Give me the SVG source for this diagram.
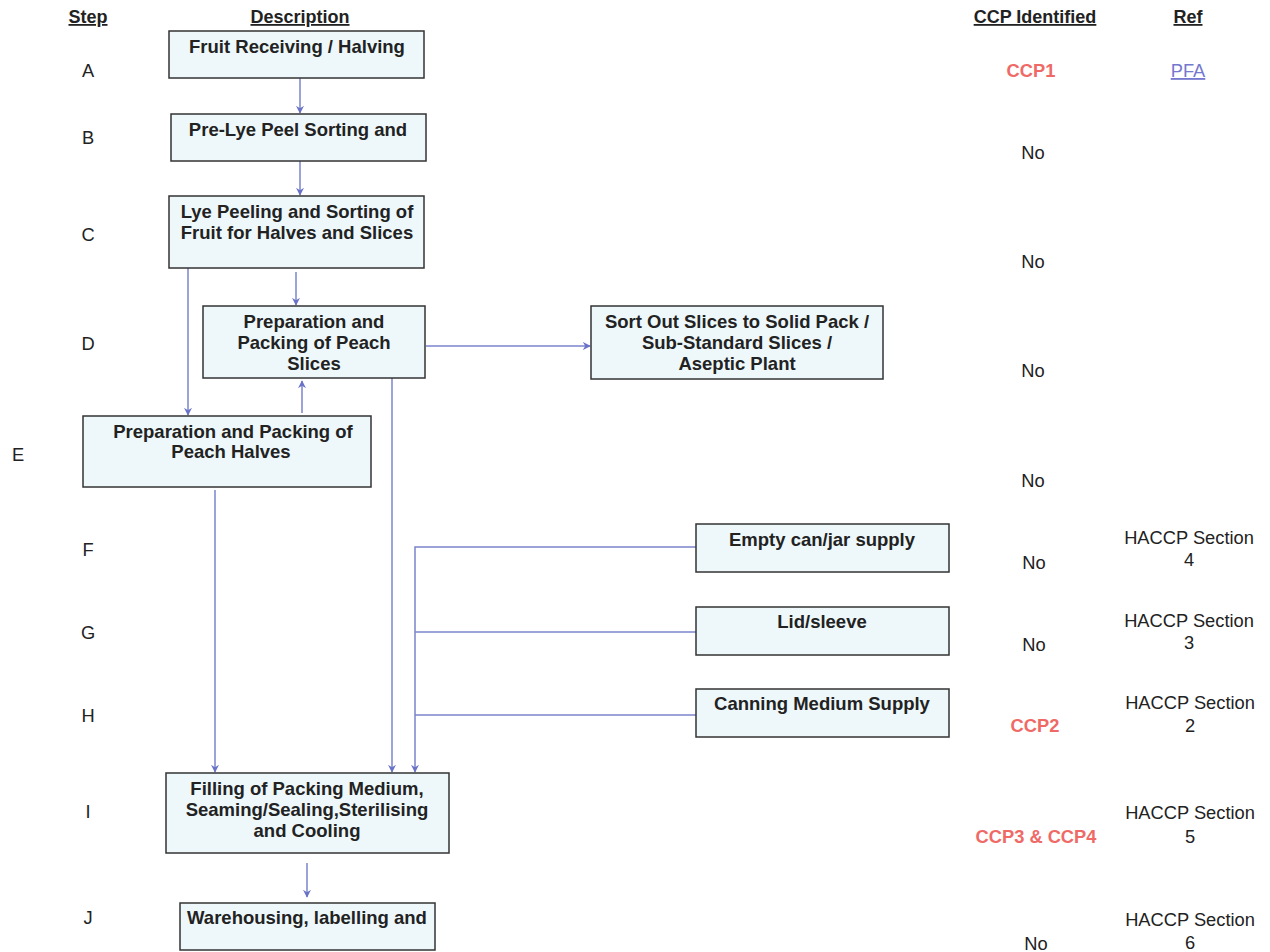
<svg xmlns="http://www.w3.org/2000/svg" width="1270" height="952" viewBox="0 0 1270 952">
<style>
text{font-family:"Liberation Sans",Arial,sans-serif;fill:#222}
.b{font-weight:bold;font-size:18.5px;text-anchor:middle}
.h{font-weight:bold;font-size:18px;text-anchor:middle;text-decoration:underline}
.r{font-size:18.3px;text-anchor:middle}
.red{fill:#ef6a66;font-weight:bold}
.lnk{fill:#7478cf;text-decoration:underline}
.box{fill:#eef8fb;stroke:#333;stroke-width:1.5}
.c{fill:none;stroke:#7a84cc;stroke-width:1.5}
</style>
<defs>
<marker id="ah" viewBox="0 0 10 10" refX="9" refY="5" markerWidth="8" markerHeight="8" orient="auto" markerUnits="userSpaceOnUse">
<path d="M0,0 L10,5 L0,10 L3,5 Z" fill="#6a72c8"/>
</marker>
</defs>
<rect width="1270" height="952" fill="#fff"/>
<g id="headers">
<text class="h" x="88" y="23">Step</text>
<text class="h" x="300" y="23">Description</text>
<text class="h" x="1035" y="23">CCP Identified</text>
<text class="h" x="1188" y="23">Ref</text>
</g>
<g id="steps">
<text class="r" x="88" y="77">A</text>
<text class="r" x="88" y="144">B</text>
<text class="r" x="88" y="241">C</text>
<text class="r" x="88" y="350">D</text>
<text class="r" x="18" y="461">E</text>
<text class="r" x="88" y="556">F</text>
<text class="r" x="88" y="639">G</text>
<text class="r" x="88" y="722">H</text>
<text class="r" x="88" y="818">I</text>
<text class="r" x="88" y="924">J</text>
</g>
<g id="ccp">
<text class="r red" x="1031" y="77">CCP1</text>
<text class="r" x="1033" y="159">No</text>
<text class="r" x="1033" y="268">No</text>
<text class="r" x="1033" y="377">No</text>
<text class="r" x="1033" y="487">No</text>
<text class="r" x="1034" y="569">No</text>
<text class="r" x="1034" y="651">No</text>
<text class="r red" x="1035" y="732">CCP2</text>
<text class="r red" x="1036" y="843">CCP3 &amp; CCP4</text>
<text class="r" x="1036" y="950">No</text>
</g>
<g id="ref">
<text class="r lnk" x="1188" y="77">PFA</text>
<text class="r" x="1189" y="544">HACCP Section</text><text class="r" x="1189" y="566">4</text>
<text class="r" x="1189" y="627">HACCP Section</text><text class="r" x="1189" y="649">3</text>
<text class="r" x="1190" y="709">HACCP Section</text><text class="r" x="1190" y="732">2</text>
<text class="r" x="1190" y="819">HACCP Section</text><text class="r" x="1190" y="843">5</text>
<text class="r" x="1190" y="926">HACCP Section</text><text class="r" x="1190" y="949">6</text>
</g>
<g id="connectors">
<line class="c" x1="300" y1="78" x2="300" y2="113" marker-end="url(#ah)"/>
<line class="c" x1="300" y1="161" x2="300" y2="195" marker-end="url(#ah)"/>
<line class="c" x1="296" y1="272" x2="296" y2="305" marker-end="url(#ah)"/>
<line class="c" x1="188" y1="268" x2="188" y2="415" marker-end="url(#ah)"/>
<line class="c" x1="302" y1="413" x2="302" y2="381" marker-end="url(#ah)"/>
<line class="c" x1="426" y1="346" x2="590" y2="346" marker-end="url(#ah)"/>
<line class="c" x1="392" y1="378" x2="392" y2="772" marker-end="url(#ah)"/>
<line class="c" x1="215" y1="490" x2="215" y2="772" marker-end="url(#ah)"/>
<polyline class="c" points="696,547 415,547 415,772" marker-end="url(#ah)"/>
<line class="c" x1="415" y1="632" x2="696" y2="632"/>
<line class="c" x1="415" y1="715" x2="696" y2="715"/>
<line class="c" x1="307" y1="863" x2="307" y2="897" marker-end="url(#ah)"/>
</g>
<g id="nodeA"><rect class="box" x="169" y="31" width="255" height="47"/><text class="b" x="297" y="53">Fruit Receiving / Halving</text></g>
<g id="nodeB"><rect class="box" x="171" y="114" width="255" height="47"/><text class="b" x="298" y="136">Pre-Lye Peel Sorting and</text></g>
<g id="nodeC"><rect class="box" x="169" y="196" width="255" height="72"/><text class="b" x="297" y="218">Lye Peeling and Sorting of</text><text class="b" x="297" y="239">Fruit for Halves and Slices</text></g>
<g id="nodeD"><rect class="box" x="203" y="306" width="222" height="72"/><text class="b" x="314" y="328">Preparation and</text><text class="b" x="314" y="349">Packing of Peach</text><text class="b" x="314" y="370">Slices</text></g>
<g id="nodeSort"><rect class="box" x="591" y="306" width="292" height="73"/><text class="b" x="737" y="328">Sort Out Slices to Solid Pack /</text><text class="b" x="737" y="349">Sub-Standard Slices /</text><text class="b" x="737" y="370">Aseptic Plant</text></g>
<g id="nodeE"><rect class="box" x="83" y="416" width="288" height="71"/><text class="b" x="233" y="438">Preparation and Packing of</text><text class="b" x="231" y="458">Peach Halves</text></g>
<g id="nodeF"><rect class="box" x="696" y="524" width="253" height="48"/><text class="b" x="822" y="546">Empty can/jar supply</text></g>
<g id="nodeG"><rect class="box" x="696" y="607" width="253" height="48"/><text class="b" x="822" y="628">Lid/sleeve</text></g>
<g id="nodeH"><rect class="box" x="696" y="689" width="253" height="48"/><text class="b" x="822" y="710">Canning Medium Supply</text></g>
<g id="nodeI"><rect class="box" x="166" y="773" width="283" height="80"/><text class="b" x="307" y="795">Filling of Packing Medium,</text><text class="b" x="307" y="816">Seaming/Sealing,Sterilising</text><text class="b" x="307" y="837">and Cooling</text></g>
<g id="nodeJ"><rect class="box" x="180" y="903" width="255" height="47"/><text class="b" x="307" y="924">Warehousing, labelling and</text></g>
</svg>
